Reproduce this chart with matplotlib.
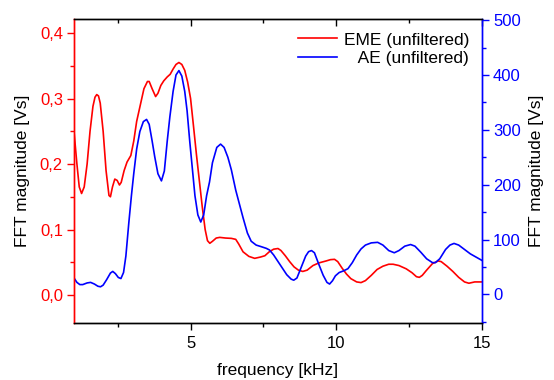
import matplotlib
matplotlib.use("Agg")
import matplotlib.pyplot as plt
from matplotlib.ticker import FuncFormatter, MultipleLocator

plt.rcParams['font.family'] = ['Liberation Sans', 'DejaVu Sans']
plt.rcParams['font.size'] = 12

# EME (unfiltered): frequency [kHz], FFT magnitude [Vs]
eme_freq = [1.0, 1.1, 1.18, 1.26, 1.35, 1.45, 1.55, 1.65, 1.72, 1.78, 1.84, 1.9, 2.0, 2.1, 2.2, 2.25,
            2.32, 2.40, 2.48, 2.56, 2.62, 2.72, 2.82, 2.95, 3.05, 3.15, 3.26, 3.4, 3.52, 3.58,
            3.68, 3.80, 3.88, 3.98, 4.08, 4.2, 4.3, 4.4, 4.5, 4.6, 4.7, 4.8, 4.9, 5.0, 5.1, 5.2,
            5.3, 5.4, 5.5, 5.58, 5.66, 5.75, 5.88, 6.0, 6.2, 6.4, 6.55, 6.65, 6.8, 7.0, 7.2, 7.4,
            7.55, 7.7, 7.85, 8.0, 8.1, 8.25, 8.4, 8.55, 8.7, 8.85, 9.0, 9.2, 9.4, 9.65, 9.8, 9.94,
            10.05, 10.2, 10.35, 10.5, 10.7, 10.85, 11.0, 11.2, 11.4, 11.6, 11.8, 11.95, 12.15,
            12.4, 12.6, 12.75, 12.85, 12.95, 13.1, 13.3, 13.5, 13.6, 13.8, 14.0, 14.2, 14.4,
            14.55, 14.75, 15.0]
eme_mag = [0.250, 0.200, 0.165, 0.155, 0.165, 0.200, 0.250, 0.288, 0.302, 0.306, 0.304, 0.293, 0.250,
           0.190, 0.152, 0.150, 0.165, 0.177, 0.175, 0.168, 0.172, 0.190, 0.203, 0.213, 0.235,
           0.265, 0.287, 0.315, 0.326, 0.326, 0.315, 0.303, 0.308, 0.320, 0.327, 0.333, 0.337,
           0.345, 0.352, 0.355, 0.352, 0.343, 0.325, 0.300, 0.258, 0.215, 0.175, 0.135, 0.100,
           0.083, 0.079, 0.082, 0.087, 0.088, 0.087, 0.0865, 0.085, 0.078, 0.066, 0.059, 0.056,
           0.058, 0.060, 0.066, 0.070, 0.071, 0.068, 0.060, 0.051, 0.043, 0.038, 0.036, 0.038,
           0.045, 0.049, 0.052, 0.054, 0.0545, 0.051, 0.041, 0.032, 0.025, 0.020, 0.019, 0.022,
           0.030, 0.039, 0.044, 0.047, 0.047, 0.045, 0.040, 0.034, 0.028, 0.027, 0.030, 0.038,
           0.048, 0.052, 0.051, 0.044, 0.036, 0.027, 0.020, 0.018, 0.020, 0.020]

# AE (unfiltered): frequency [kHz], FFT magnitude [Vs]
ae_freq = [1.0, 1.1, 1.2, 1.3, 1.45, 1.57, 1.7, 1.82, 1.91, 2.0, 2.12, 2.25, 2.33, 2.42, 2.52,
           2.61, 2.7, 2.78, 2.88, 2.97, 3.05, 3.15, 3.26, 3.38, 3.49, 3.58, 3.68, 3.77, 3.88,
           4.0, 4.1, 4.2, 4.29, 4.4, 4.5, 4.6, 4.7, 4.8, 4.88, 4.97, 5.06, 5.15, 5.25, 5.35,
           5.45, 5.55, 5.65, 5.75, 5.9, 6.03, 6.15, 6.28, 6.4, 6.55, 6.7, 6.8, 6.95, 7.08, 7.25,
           7.43, 7.6, 7.71, 7.85, 8.0, 8.15, 8.3, 8.45, 8.54, 8.65, 8.8, 8.95, 9.05, 9.15, 9.25,
           9.4, 9.55, 9.68, 9.77, 9.87, 9.97, 10.1, 10.25, 10.4, 10.55, 10.7, 10.85, 11.0, 11.2,
           11.42, 11.6, 11.8, 11.99, 12.15, 12.35, 12.55, 12.7, 12.9, 13.1, 13.3, 13.4, 13.55,
           13.75, 13.9, 14.04, 14.2, 14.4, 14.6, 14.8, 15.0]
ae_mag = [30, 22, 18, 18, 21, 22, 19, 15, 14, 17, 27, 39, 42, 38, 31, 29, 40, 70, 130, 180, 220,
          265, 297, 315, 319, 310, 280, 251, 220, 207, 225, 280, 324, 370, 400, 408, 398, 370,
          335, 280, 230, 180, 145, 132, 145, 180, 205, 240, 268, 274, 268, 250, 227, 190, 160,
          140, 112, 97, 90, 87, 84, 81, 72, 60, 48, 36, 28, 26, 30, 50, 70, 78, 80, 76, 55, 35,
          22, 19, 25, 34, 40, 43, 47, 58, 72, 83, 90, 94, 95, 90, 80, 76, 80, 88, 91, 88, 77, 65,
          58, 58, 65, 82, 90, 93, 90, 82, 74, 68, 62]

x_ticks = [5, 10, 15]
left_ticks = [0.0, 0.1, 0.2, 0.3, 0.4]
right_ticks = [0, 100, 200, 300, 400, 500]

RED = '#ff0000'
BLUE = '#0000ff'
TICK_FS = 12
LABEL_FS = 12.5

fig = plt.figure(figsize=(5.54, 3.80), dpi=100)
ax = fig.add_axes([74 / 554, 57 / 380, 408 / 554, 304 / 380])
ax2 = ax.twinx()

l1, = ax.plot(eme_freq, eme_mag, color=RED, lw=1.2)
l2, = ax2.plot(ae_freq, ae_mag, color=BLUE, lw=1.2)

ax.set_xlim(1, 15)
ax.set_ylim(-0.0427, 0.4214)
ax2.set_ylim(-52, 502)

ax.set_xticks(x_ticks)
ax.xaxis.set_minor_locator(MultipleLocator(2.5))
ax.set_yticks(left_ticks)
ax.yaxis.set_minor_locator(MultipleLocator(0.05))
ax2.set_yticks(right_ticks)
ax2.yaxis.set_minor_locator(MultipleLocator(50))

ax.yaxis.set_major_formatter(FuncFormatter(lambda v, p: f"{v:.1f}".replace('.', ',')))
ax2.yaxis.set_major_formatter(FuncFormatter(lambda v, p: f"{v:.0f}"))

ax.tick_params(axis='x', which='both', direction='out', top=True, labelsize=TICK_FS, colors='black')
ax.tick_params(axis='x', which='major', length=5, width=1, pad=4)
ax.tick_params(axis='x', which='minor', length=3, width=1)
ax.tick_params(axis='y', which='major', direction='out', length=5, width=1, colors=RED,
               labelsize=TICK_FS, pad=3)
ax.tick_params(axis='y', which='minor', direction='out', length=3, width=1, colors=RED)
ax2.tick_params(axis='y', which='major', direction='out', length=5, width=1, colors=BLUE,
                labelsize=TICK_FS, pad=3)
ax2.tick_params(axis='y', which='minor', direction='out', length=3, width=1, colors=BLUE)

# top ticks point inward
for t in ax.xaxis.get_major_ticks() + ax.xaxis.get_minor_ticks():
    t.tick2line.set_marker(3)

for a in (ax, ax2):
    a.spines['top'].set_color('black')
    a.spines['bottom'].set_color('black')
    a.spines['left'].set_color(RED)
    a.spines['right'].set_color(BLUE)
    for s in a.spines.values():
        s.set_linewidth(1.0)

ax.set_xlabel('frequency [kHz]', fontsize=LABEL_FS, labelpad=9)
ax.set_ylabel('FFT magnitude [Vs]', fontsize=LABEL_FS, labelpad=7)
ax2.set_ylabel('FFT magnitude [Vs]', fontsize=LABEL_FS, labelpad=6)

ax.legend([l1, l2], ['EME (unfiltered)', '   AE (unfiltered)'], loc='upper right',
          bbox_to_anchor=(0.968, 0.956), frameon=False, borderpad=0, borderaxespad=0,
          handlelength=2.25, handletextpad=0.35, labelspacing=0.2, fontsize=LABEL_FS)

fig.savefig('out.png', dpi=100)
